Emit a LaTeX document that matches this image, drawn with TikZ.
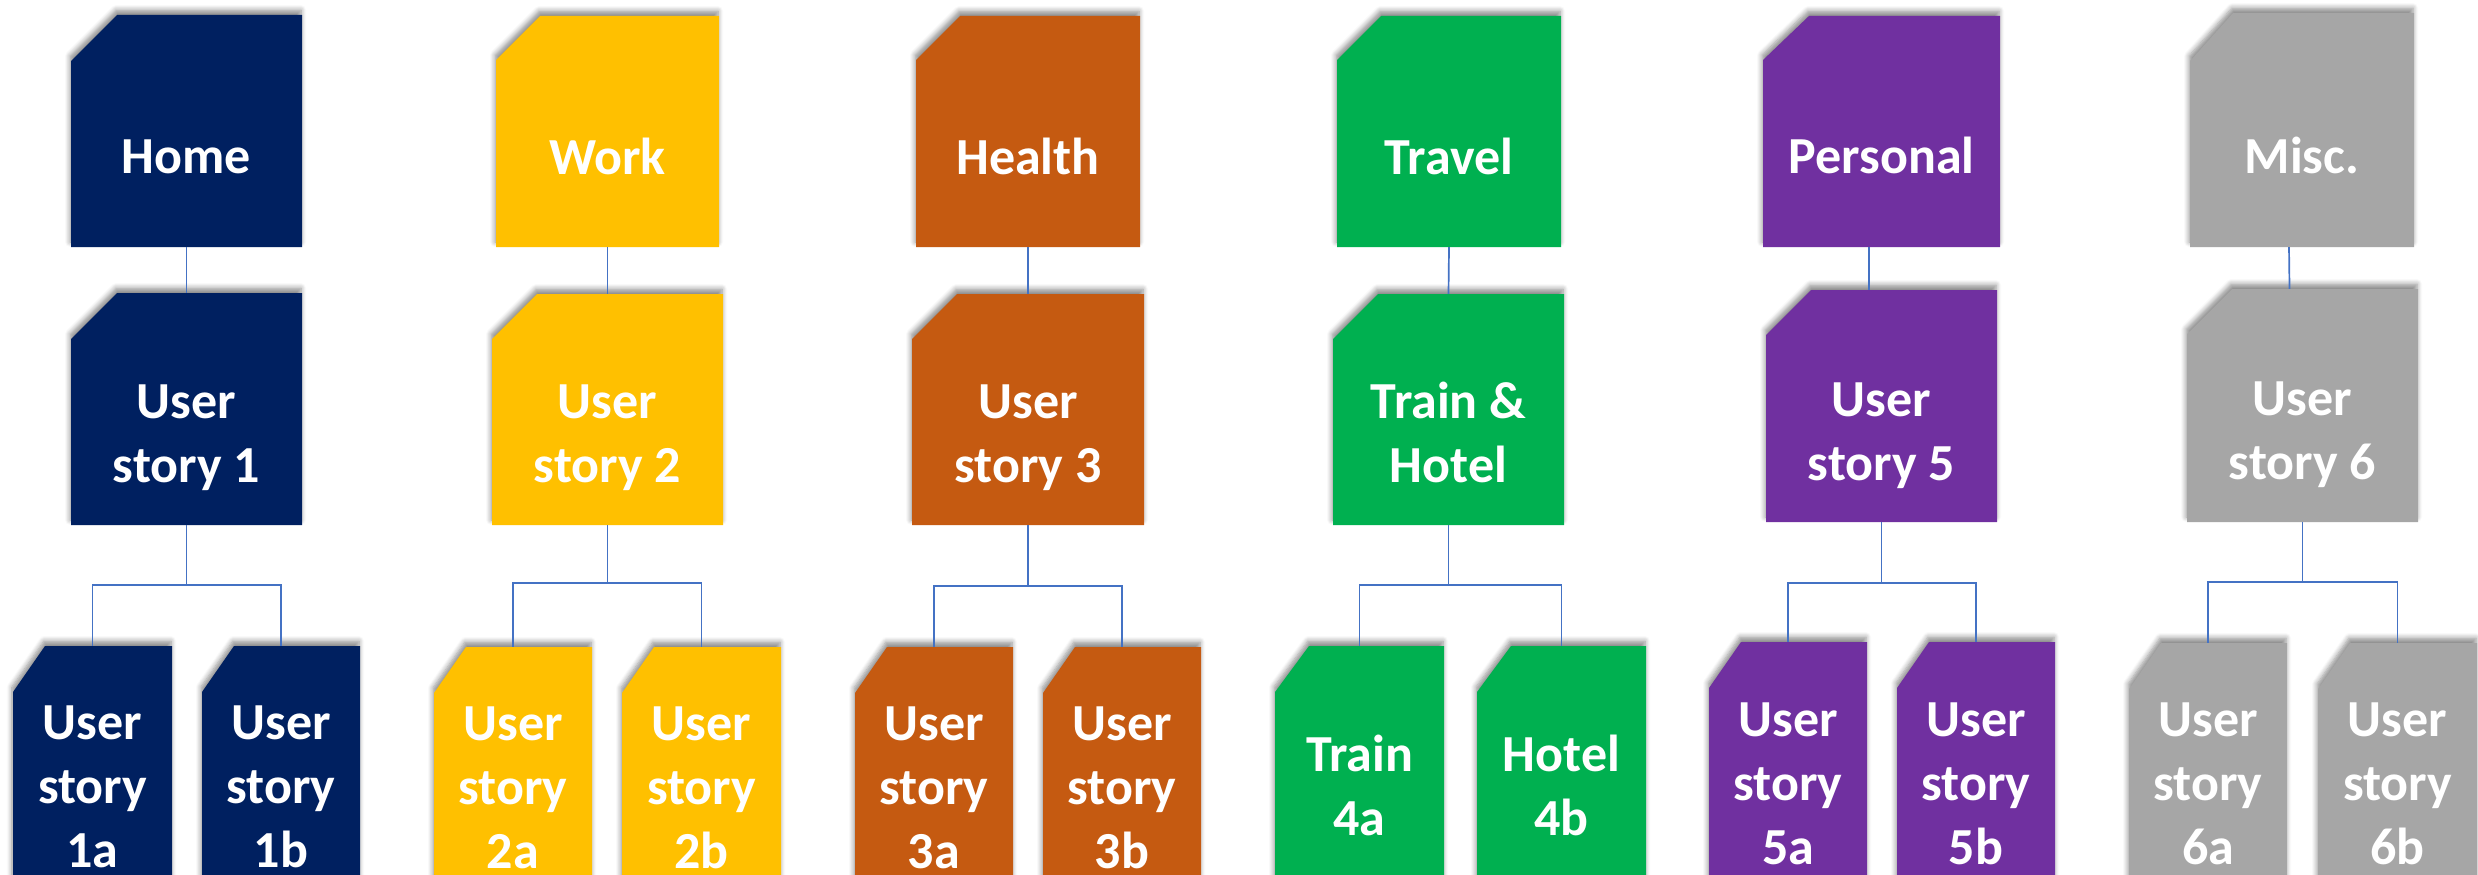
\documentclass[tikz,border=0pt]{standalone}
\usepackage{fontspec}
\setmainfont{Carlito}
\usetikzlibrary{shadows.blur,fit,calc}
\definecolor{cHome}{HTML}{002060}
\definecolor{cWork}{HTML}{FFC000}
\definecolor{cHealth}{HTML}{C55A11}
\definecolor{cTravel}{HTML}{00B050}
\definecolor{cPers}{HTML}{7030A0}
\definecolor{cMisc}{HTML}{A6A6A6}
\definecolor{connblue}{HTML}{4472C4}
\tikzset{
  boxshadow/.style={blur shadow={shadow xshift=-1pt, shadow yshift=5pt, shadow blur radius=5pt, shadow blur steps=6, shadow opacity=45}},
  conn/.style={draw=connblue, line width=1.7pt},
  lbl/.style={text=white, font=\fontsize{52}{64}\selectfont\bfseries, inner sep=0pt, anchor=base},
  frame/.style={inner sep=0pt, draw=none}
}
% #1 name, #2 x1, #3 y1, #4 x2, #5 y2, #6 cut x, #7 cut y, #8 colour
\newcommand\snipbox[8]{%
  \fill[#8, boxshadow] ({#2+#6},#3) -- (#4,#3) -- (#4,#5) -- (#2,#5) -- (#2,{#3+#7}) -- cycle;
  \node[frame, fit={(#2,#3) (#4,#5)}] (#1) {};
}
\newcommand\stacklines[1]{\vtop{\halign{\hfil##\hfil\cr#1\crcr}}}
\begin{document}
\begin{tikzpicture}[x=1pt,y=-1pt]
\useasboundingbox (0,0) rectangle (2478,875);
\clip (0,0) rectangle (2478,875);

% ---------- column 1: Home ----------
\snipbox{home}{71}{15}{302}{247}{46}{46}{cHome}
\snipbox{us1}{71}{293}{302}{525}{46}{46}{cHome}
\snipbox{us1a}{13}{646}{172}{900}{32}{46}{cHome}
\snipbox{us1b}{202}{646}{360}{900}{32}{46}{cHome}
\node[lbl] (thome) at (home |- 0,173) {Home};
\node[lbl] (tus1) at (us1 |- 0,418) {\stacklines{User\cr story 1}};
\node[lbl] (tus1a) at (us1a |- 0,739) {\stacklines{User\cr story\cr 1a}};
\node[lbl] (tus1b) at (us1b |- 0,739) {\stacklines{User\cr story\cr 1b}};
\draw[conn] (home.south) -- (us1.north);
\coordinate (j1) at (us1.south |- 0,585);
\draw[conn] (us1.south) -- (j1) -| (us1a.north);
\draw[conn] (j1) -| (us1b.north);

% ---------- column 2: Work ----------
\snipbox{work}{496}{16}{719}{247}{44}{44}{cWork}
\snipbox{us2}{492}{294}{723}{525}{45}{45}{cWork}
\snipbox{us2a}{434}{647}{592}{900}{32}{46}{cWork}
\snipbox{us2b}{622}{647}{781}{900}{32}{46}{cWork}
\node[lbl] (twork) at (work |- 0,174) {Work};
\node[lbl] (tus2) at (us2 |- 0,418) {\stacklines{User\cr story 2}};
\node[lbl] (tus2a) at (us2a |- 0,740) {\stacklines{User\cr story\cr 2a}};
\node[lbl] (tus2b) at (us2b |- 0,740) {\stacklines{User\cr story\cr 2b}};
\draw[conn] (work.south) -- (us2.north);
\coordinate (j2) at (us2.south |- 0,583);
\draw[conn] (us2.south) -- (j2) -| (us2a.north);
\draw[conn] (j2) -| (us2b.north);

% ---------- column 3: Health ----------
\snipbox{health}{916}{16}{1140}{247}{44}{44}{cHealth}
\snipbox{us3}{912}{294}{1144}{525}{45}{45}{cHealth}
\snipbox{us3a}{855}{647}{1013}{900}{32}{46}{cHealth}
\snipbox{us3b}{1043}{647}{1201}{900}{32}{46}{cHealth}
\node[lbl] (thealth) at (health |- 0,174) {Health};
\node[lbl] (tus3) at (us3 |- 0,418) {\stacklines{User\cr story 3}};
\node[lbl] (tus3a) at (us3a |- 0,740) {\stacklines{User\cr story\cr 3a}};
\node[lbl] (tus3b) at (us3b |- 0,740) {\stacklines{User\cr story\cr 3b}};
\draw[conn] (health.south) -- (us3.north);
\coordinate (j3) at (us3.south |- 0,586);
\draw[conn] (us3.south) -- (j3) -| (us3a.north);
\draw[conn] (j3) -| (us3b.north);

% ---------- column 4: Travel ----------
\snipbox{travel}{1337}{16}{1561}{247}{44}{44}{cTravel}
\snipbox{us4}{1333}{294}{1564}{525}{45}{45}{cTravel}
\snipbox{us4a}{1275}{646}{1444}{900}{34}{46}{cTravel}
\snipbox{us4b}{1477}{646}{1646}{900}{34}{46}{cTravel}
\node[lbl] (ttravel) at (travel |- 0,174) {Travel};
\node[lbl] (tus4) at (us4 |- 0,418) {\stacklines{Train \&\cr Hotel}};
\node[lbl] (tus4a) at (us4a |- 0,771) {\stacklines{Train\cr 4a}};
\node[lbl] (tus4b) at (us4b |- 0,771) {\stacklines{Hotel\cr 4b}};
\draw[conn] (travel.south) -- (us4.north);
\coordinate (j4) at (us4.south |- 0,585);
\draw[conn] (us4.south) -- (j4) -| (us4a.north);
\draw[conn] (j4) -| (us4b.north);

% ---------- column 5: Personal ----------
\snipbox{personal}{1763}{16}{2000}{247}{46}{44}{cPers}
\snipbox{us5}{1766}{290}{1997}{522}{45}{45}{cPers}
\snipbox{us5a}{1709}{642}{1867}{900}{32}{46}{cPers}
\snipbox{us5b}{1897}{642}{2055}{900}{32}{46}{cPers}
\node[lbl] (tpersonal) at (personal |- 0,173) {Personal};
\node[lbl] (tus5) at (us5 |- 0,416) {\stacklines{User\cr story 5}};
\node[lbl] (tus5a) at (us5a |- 0,736) {\stacklines{User\cr story\cr 5a}};
\node[lbl] (tus5b) at (us5b |- 0,736) {\stacklines{User\cr story\cr 5b}};
\draw[conn] ([xshift=-12.5pt]personal.south) -- ([xshift=-12.5pt]us5.north);
\coordinate (j5) at (us5.south |- 0,583);
\draw[conn] (us5.south) -- (j5) -| (us5a.north);
\draw[conn] (j5) -| (us5b.north);

% ---------- column 6: Misc. ----------
\snipbox{misc}{2190}{13}{2414}{247}{43}{48}{cMisc}
\snipbox{us6}{2187}{289}{2418}{522}{45}{45}{cMisc}
\snipbox{us6a}{2129}{643}{2287}{900}{32}{46}{cMisc}
\snipbox{us6b}{2318}{643}{2477}{900}{32}{46}{cMisc}
\node[lbl] (tmisc) at (misc |- 0,173) {Misc.};
\node[lbl] (tus6) at (us6 |- 0,415) {\stacklines{User\cr story 6}};
\node[lbl] (tus6a) at (us6a |- 0,736) {\stacklines{User\cr story\cr 6a}};
\node[lbl] (tus6b) at (us6b |- 0,736) {\stacklines{User\cr story\cr 6b}};
\draw[conn] ([xshift=-13pt]misc.south) -- ([xshift=-13pt]us6.north);
\coordinate (j6) at (us6.south |- 0,582);
\draw[conn] (us6.south) -- (j6) -| (us6a.north);
\draw[conn] (j6) -| (us6b.north);
\end{tikzpicture}
\end{document}
